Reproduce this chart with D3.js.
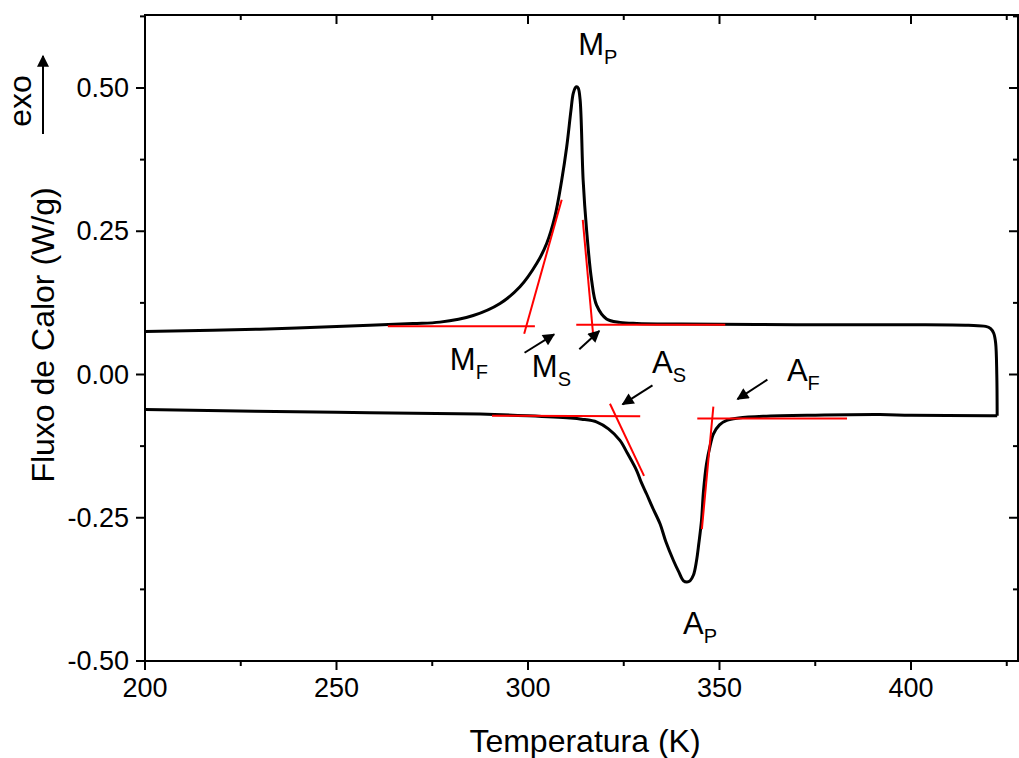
<!DOCTYPE html>
<html><head><meta charset="utf-8">
<script src="https://cdn.jsdelivr.net/npm/d3@7"></script>
<style>body{margin:0;background:#fff}text{font-family:"Liberation Sans",Arial,sans-serif}</style>
</head><body><svg id="c" width="1019" height="758"></svg>
<script>
const xTicks=[200,250,300,350,400];
const yTicks=[-0.50,-0.25,0.00,0.25,0.50];
const coolT=[200,230,258.7,270,277,285.7,292.7,297.9,302.3,304.9,307,308.8,310.1,311.2,311.8,312.4,312.7,313.1,313.6,314.4,315.3,316.6,317.9,320.5,324,328.4,340,370,400,415,419.5,420.8,421.6,422.1,422.4,422.5];
const coolY=[0.075,0.079,0.086,0.089,0.0914,0.103,0.124,0.153,0.194,0.229,0.275,0.339,0.397,0.460,0.490,0.501,0.502,0.500,0.480,0.339,0.252,0.165,0.121,0.097,0.091,0.089,0.088,0.087,0.087,0.086,0.084,0.080,0.072,0.055,0.0,-0.072];
const heatT=[422.5,420.6,400,391.9,375,361.4,355,351.9,350,348.4,347.5,346.6,345.8,345.3,344.6,344,343.2,342.3,341.5,340.6,339.4,338,336,334.5,332.5,331,329.5,328.4,326,324,321,318,314,311,300,287.5,250,200];
const heatY=[-0.072,-0.072,-0.071,-0.070,-0.071,-0.073,-0.076,-0.080,-0.088,-0.104,-0.126,-0.156,-0.205,-0.255,-0.295,-0.325,-0.350,-0.360,-0.362,-0.360,-0.345,-0.325,-0.292,-0.261,-0.232,-0.209,-0.187,-0.168,-0.138,-0.115,-0.095,-0.083,-0.078,-0.076,-0.072,-0.069,-0.066,-0.061];
const redLines=[[263.4,0.084,301.8,0.084],[299.0,0.071,308.8,0.305],[312.6,0.087,351.5,0.087],[314.3,0.270,317.0,0.070],[290.6,-0.072,329.3,-0.073],[321.4,-0.051,330.3,-0.177],[344.2,-0.077,383.3,-0.077],[348.4,-0.056,345.4,-0.270]];
const arrows=[[299.1,0.038,306.8,0.070],[313.4,0.044,318.6,0.076],[332.5,-0.019,324.7,-0.052],[362.5,-0.009,354.7,-0.043]];
const labels=[["M","P",313.1,0.558],["M","F",279.6,0.007],["M","S",301.0,-0.005],["A","S",332.4,0.003],["A","F",367.6,-0.012],["A","P",340.5,-0.453]];

const svg=d3.select("#c");
const L=145,R=1018,T=15,B=661;
const x=d3.scaleLinear().domain([200,200+(R-L)/3.83]).range([L,R]);
const y=d3.scaleLinear().domain([-0.5,0.5]).range([661,88]);
const defs=svg.append("defs");
defs.append("marker").attr("id","ah").attr("viewBox","0 0 10 10").attr("refX",9).attr("refY",5)
 .attr("markerWidth",8).attr("markerHeight",6).attr("markerUnits","strokeWidth").attr("orient","auto")
 .append("path").attr("d","M0,0L10,5L0,10z").attr("fill","#000");
defs.append("clipPath").attr("id","cp").append("rect").attr("x",L).attr("y",T).attr("width",R-L).attr("height",B-T);

const tk=d3.range(200,430,25), ytk=d3.range(-0.5,0.626,0.125);
const g=svg.append("g");
const big=d=>Math.abs(d%50)<1e-6;
const ybig=d=>Math.abs((d*4)-Math.round(d*4))<1e-6;
tk.forEach(d=>{const l=big(d)?9:5;
 g.append("line").attr("x1",x(d)).attr("x2",x(d)).attr("y1",B).attr("y2",B+l).attr("stroke","#000").attr("stroke-width",2);
 g.append("line").attr("x1",x(d)).attr("x2",x(d)).attr("y1",T).attr("y2",T+l).attr("stroke","#000").attr("stroke-width",2);});
ytk.forEach(d=>{const l=ybig(d)?9:5;
 g.append("line").attr("x1",L).attr("x2",L-l).attr("y1",y(d)).attr("y2",y(d)).attr("stroke","#000").attr("stroke-width",2);
 g.append("line").attr("x1",R).attr("x2",R-l).attr("y1",y(d)).attr("y2",y(d)).attr("stroke","#000").attr("stroke-width",2);});
g.append("rect").attr("x",L).attr("y",T).attr("width",R-L).attr("height",B-T).attr("fill","none").attr("stroke","#000").attr("stroke-width",2);
xTicks.forEach(d=>g.append("text").attr("x",x(d)).attr("y",B+36).attr("text-anchor","middle").attr("font-size",27).text(d));
yTicks.forEach(d=>g.append("text").attr("x",L-16).attr("y",y(d)+9).attr("text-anchor","end").attr("font-size",27).text(d.toFixed(2)));
svg.append("text").attr("x",585).attr("y",752).attr("text-anchor","middle").attr("font-size",32).text("Temperatura (K)");
svg.append("text").attr("transform","translate(54,335) rotate(-90)").attr("text-anchor","middle").attr("font-size",32).text("Fluxo de Calor (W/g)");
svg.append("text").attr("transform","translate(31,101) rotate(-90)").attr("text-anchor","middle").attr("font-size",32).text("exo");
svg.append("line").attr("x1",43).attr("x2",43).attr("y1",134).attr("y2",56).attr("stroke","#000").attr("stroke-width",2).attr("marker-end","url(#ah)");

const lineC=d3.line().x(d=>x(d[0])).y(d=>y(d[1])).curve(d3.curveCatmullRom.alpha(0.5));
const cool=coolT.map((t,i)=>[t,coolY[i]]), heat=heatT.map((t,i)=>[t,heatY[i]]);
const pg=svg.append("g").attr("clip-path","url(#cp)");
pg.append("path").attr("d",lineC(cool)).attr("fill","none").attr("stroke","#000").attr("stroke-width",3).attr("stroke-linejoin","round");
pg.append("path").attr("d",lineC(heat)).attr("fill","none").attr("stroke","#000").attr("stroke-width",3).attr("stroke-linejoin","round");
redLines.forEach(r=>pg.append("line").attr("x1",x(r[0])).attr("y1",y(r[1])).attr("x2",x(r[2])).attr("y2",y(r[3])).attr("stroke","#f00").attr("stroke-width",2));
arrows.forEach(a=>svg.append("line").attr("x1",x(a[0])).attr("y1",y(a[1])).attr("x2",x(a[2])).attr("y2",y(a[3])).attr("stroke","#000").attr("stroke-width",2).attr("marker-end","url(#ah)"));
labels.forEach(l=>{const t=svg.append("text").attr("x",x(l[2])).attr("y",y(l[3])).attr("font-size",31);
 t.append("tspan").text(l[0]); t.append("tspan").attr("dy",9).attr("font-size",20).text(l[1]);});
</script></body></html>
